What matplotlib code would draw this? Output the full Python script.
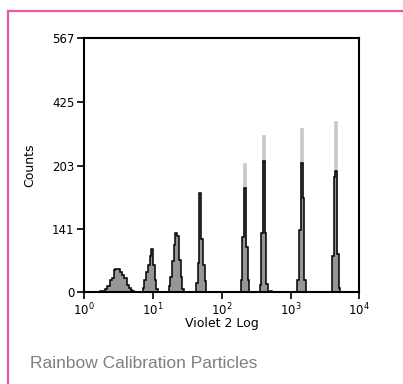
import matplotlib
matplotlib.use('Agg')
import matplotlib.pyplot as plt
from matplotlib.lines import Line2D
import numpy as np

# histogram channels: 40 bins per decade, 10^0 .. 10^4
bins_per_decade = 40
n_bins = 160

# black/grey sample: first bin index of each peak and its counts
peak_start = [9, 34, 49, 65, 91, 102, 124, 144]
peak_counts = [
    [2, 3, 3, 8, 15, 15, 27, 33, 50, 51, 51, 51, 46, 39, 33, 33, 16, 10, 6, 3],
    [10, 27, 45, 61, 80, 96, 61, 27, 8],
    [15, 35, 70, 105, 132, 125, 72, 35, 8],
    [20, 65, 221, 120, 60, 25],
    [27, 124, 232, 102, 27],
    [16, 132, 294, 132, 18, 0, 4],
    [28, 140, 289, 211, 28],
    [80, 258, 271, 85, 10],
]

# light grey overlay sample: only the tops show above the dark one
overlay_bin = [93, 104, 126, 146]
overlay_top = [286, 349, 364, 380]

ytick_pos = [0, 141, 283, 425, 567]
ytick_lab = ['0', '141', '203', '425', '567']
xtick_pos = [1, 10, 100, 1000, 10000]
xtick_lab = [r'$10^0$', r'$10^1$', r'$10^2$', r'$10^3$', r'$10^4$']

edges = 10.0 ** (np.arange(n_bins + 1) / bins_per_decade)
counts = np.zeros(n_bins)
for s, c in zip(peak_start, peak_counts):
    counts[s:s + len(c)] = c
overlay = np.zeros(n_bins)
for b, v in zip(overlay_bin, overlay_top):
    overlay[b] = v

W, H = 403, 384
fig = plt.figure(figsize=(W / 100, H / 100), dpi=100)
fig.patch.set_facecolor('white')

l, r, t, b = 84.3, 359.3, 38.3, 292.3
ax = fig.add_axes([l / W, 1 - b / H, (r - l) / W, (b - t) / H])

ax.stairs(overlay, edges, fill=True, facecolor='#c8c8c8', edgecolor='#c8c8c8', linewidth=1.2)
ax.stairs(counts, edges, fill=True, facecolor='#969696', edgecolor='none')
ax.stairs(counts, edges, color='black', linewidth=1.1)

ax.set_xscale('log')
ax.set_xlim(1, 1e4)
ax.set_ylim(0, 567)
ax.set_xticks(xtick_pos)
ax.set_xticklabels(xtick_lab)
ax.xaxis.set_minor_locator(matplotlib.ticker.NullLocator())
ax.set_yticks(ytick_pos)
ax.set_yticklabels(ytick_lab)

for sp in ax.spines.values():
    sp.set_linewidth(1.5)
ax.tick_params(direction='out', length=5, width=1.2, labelsize=8.5, pad=2)

ax.set_xlabel('Violet 2 Log', fontsize=9)
ax.xaxis.set_label_coords(0.5, -0.098)
ax.set_ylabel('Counts', fontsize=9)
ax.yaxis.set_label_coords(-0.173, 0.5)

fig.text(30 / W, 1 - 363 / H, 'Rainbow Calibration Particles', fontsize=12.5,
         family='Liberation Sans', color='#808080', ha='left', va='center')

# pink frame, top and left only
pink = '#e65ca4'
fig.add_artist(Line2D([8 / W, 1], [1 - 11 / H, 1 - 11 / H], color=pink, lw=1.6))
fig.add_artist(Line2D([8 / W, 8 / W], [0, 1 - 11 / H], color=pink, lw=1.6))

fig.savefig('out.png', dpi=100)
